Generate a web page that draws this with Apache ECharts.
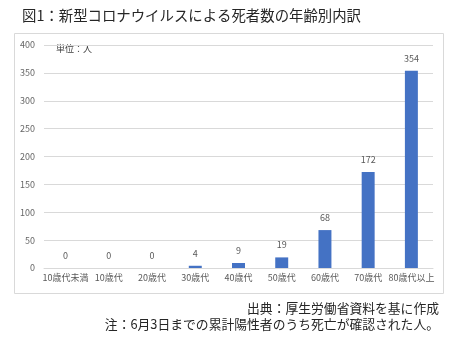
<!DOCTYPE html>
<html><head><meta charset="utf-8">
<script src="https://cdn.jsdelivr.net/npm/echarts@6/dist/echarts.min.js"></script>
<style>html,body{margin:0;padding:0;background:#fff}#c{width:461px;height:343px}</style>
</head><body><div id="c"></div>
<script>
var categories = ['10歳代未満','10歳代','20歳代','30歳代','40歳代','50歳代','60歳代','70歳代','80歳代以上'];
var deaths = [0,0,0,4,9,19,68,172,354];
var yTicks = [0,50,100,150,200,250,300,350,400];
var titleText = '図1：新型コロナウイルスによる死者数の年齢別内訳';
var unitText = '単位：人';
var sourceText = '出典：厚生労働省資料を基に作成';
var noteText = '注：6月3日までの累計陽性者のうち死亡が確認された人。';
var font = '"Noto Sans CJK JP", "Noto Sans", sans-serif';

var chart = echarts.init(document.getElementById('c'));
chart.setOption({
  animation: false,
  textStyle: {fontFamily: font},
  graphic: [
    {type:'rect', shape:{x:14.5,y:33.5,width:429,height:260}, style:{fill:'none', stroke:'#d9d9d9', lineWidth:1}, z:-1},
    {type:'text', left:22, top:8, style:{text:titleText, font:'14.4px '+font, fill:'#262626'}},
    {type:'text', left:56, top:44, style:{text:unitText, font:'9px '+font, fill:'#404040'}},
    {type:'text', right:22, top:302, style:{text:sourceText, font:'12.8px '+font, fill:'#262626', textAlign:'right'}},
    {type:'text', right:22, top:318, style:{text:noteText, font:'12.8px '+font, fill:'#262626', textAlign:'right'}}
  ],
  grid: {left:44, right:28, top:45, bottom:75},
  xAxis: {
    type:'category', data:categories,
    axisLine:{lineStyle:{color:'#d9d9d9'}},
    axisTick:{show:false},
    axisLabel:{color:'#595959', fontSize:9, margin:5, interval:0}
  },
  yAxis: {
    type:'value', min:yTicks[0], max:yTicks[yTicks.length-1], interval:50,
    axisLine:{show:false}, axisTick:{show:false},
    axisLabel:{color:'#666666', fontSize:9, margin:9},
    splitLine:{lineStyle:{color:'#d9d9d9'}}
  },
  series: [{
    type:'bar', data:deaths, barWidth:'30%',
    itemStyle:{color:'#4472C4'},
    label:{show:true, position:'top', color:'#595959', fontSize:9, distance:8}
  }]
});
</script></body></html>
